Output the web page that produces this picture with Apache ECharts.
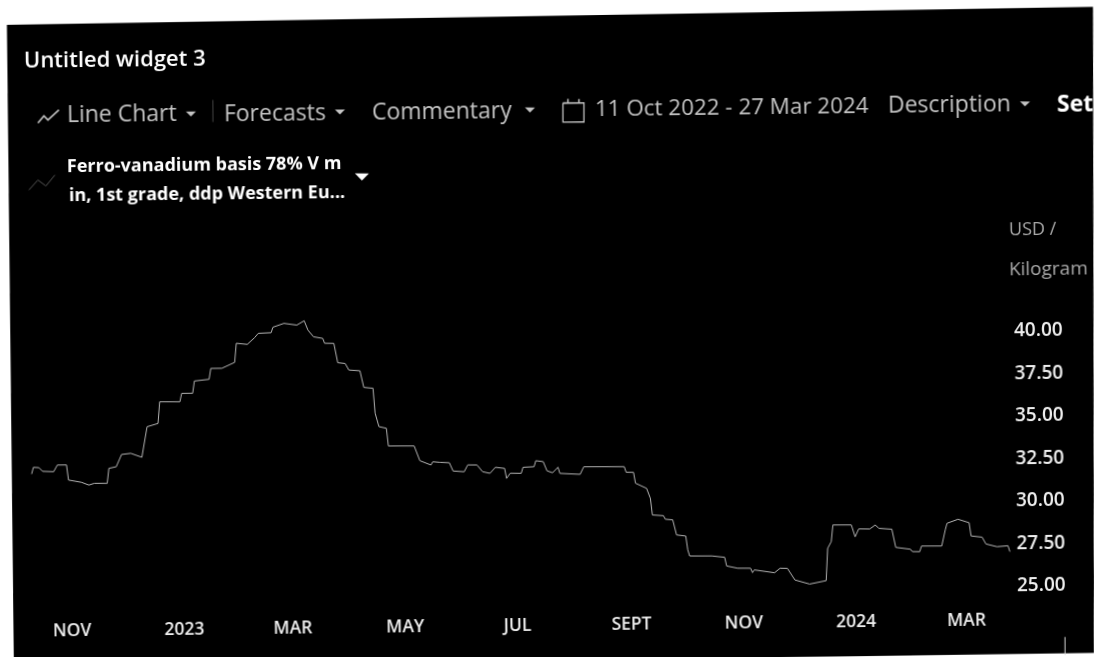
<!DOCTYPE html>
<html><head><meta charset="utf-8">
<style>html,body{margin:0;padding:0;background:#fff;overflow:hidden;width:1094px;height:657px}
#c{position:absolute;left:0;top:0;width:1200px;height:700px;transform-origin:1040px 586px;transform:rotate(-0.66deg)}</style>
<script src="https://cdn.jsdelivr.net/npm/echarts@6/dist/echarts.min.js"></script>
</head><body><div id="c"></div>
<script>
const startDate='2022-10-11', endDate='2024-03-27';
const daysSinceStart=[0,1,4,6,12,14,19,20,27,31,34,41,42,46,49,54,60,63,69,70,81,82,88,89,97,98,104,111,112,118,122,124,131,132,138,145,149,151,154,159,160,165,167,171,173,179,181,186,187,189,193,194,208,211,217,218,222,227,229,235,237,242,245,249,252,257,258,260,266,267,273,274,278,280,283,286,287,298,300,322,323,327,328,334,336,337,343,344,348,350,355,356,357,369,376,377,383,390,391,392,403,406,410,414,422,431,432,434,435,445,447,449,455,458,460,467,469,477,478,482,483,494,496,497,503,509,510,516,518,524,530,531];
const pricesUsdPerKg=[32.27,32.66,32.64,32.42,32.39,32.78,32.78,31.89,31.75,31.58,31.68,31.67,32.55,32.64,33.36,33.42,33.18,34.97,35.16,36.43,36.42,36.91,36.91,37.63,37.72,38.36,38.36,38.70,39.82,39.75,40.14,40.39,40.42,40.74,40.96,40.85,41.10,40.55,40.15,40.05,39.76,39.75,38.61,38.56,38.17,38.12,37.14,37.08,35.61,34.82,34.72,33.68,33.66,32.79,32.53,32.72,32.68,32.65,32.16,32.11,32.51,32.50,32.10,32.00,32.35,32.28,31.69,31.99,31.98,32.33,32.36,32.71,32.65,32.11,31.99,32.31,31.95,31.88,32.32,32.30,31.97,31.96,31.32,31.01,30.42,29.44,29.39,29.18,29.14,28.25,28.18,27.36,27.00,26.99,26.90,26.39,26.25,26.24,25.98,26.14,25.96,26.22,26.21,25.52,25.27,25.46,27.36,27.75,28.73,28.72,28.02,28.48,28.47,28.70,28.50,28.44,27.37,27.25,27.11,27.10,27.43,27.42,28.36,28.75,28.98,28.77,27.99,27.91,27.51,27.34,27.39,27.04];
const tickDates=['2022-11-01','2023-01-01','2023-03-01','2023-05-01','2023-07-01','2023-09-01','2023-11-01','2024-01-01','2024-03-01'];
const tickLabels=['NOV','2023','MAR','MAY','JUL','SEPT','NOV','2024','MAR'];
const DAY=86400000;
const t0=Date.parse(startDate+'T00:00:00Z');
const seriesData=daysSinceStart.map((d,i)=>[t0+d*DAY,pricesUsdPerKg[i]]);
const tickTimes=tickDates.map(d=>Date.parse(d+'T00:00:00Z'));

const S=0.0115, F='"Open Sans",sans-serif';
const ux=(x,y)=>x+(586-y)*S, uy=(x,y)=>y-(1040-x)*S;
const P=pts=>pts.map(p=>[ux(p[0],p[1]),uy(p[0],p[1])]);
function txt(s,x,y,size,color,weight){return {type:'text',x:ux(x,y),y:uy(x,y),z:10,style:{text:s,font:(weight||400)+' '+size+'px '+F,fill:color,textVerticalAlign:'middle',textAlign:'left'}};}
function tri(cx,cy,w,h,color){return {type:'polygon',z:10,shape:{points:P([[cx-w/2,cy-h/2],[cx+w/2,cy-h/2],[cx,cy+h/2]])},style:{fill:color}};}
function pl(pts,color,lw){return {type:'polyline',z:10,shape:{points:P(pts)},style:{stroke:color,fill:null,lineWidth:lw}};}
const dim='#c4c4c4';
const graphics=[
 {type:'polygon',z:-10,shape:{points:P([[7,25],[1093,7],[1094,653],[14,668]])},style:{fill:'#000'}},
 txt('Untitled widget 3',24,61,22,'#fff',600),
 txt('Line Chart',67,116,23,dim),tri(191,114,10,5,dim),
 pl([[213,100],[213,122]],'#444',1),
 txt('Forecasts',224,115,23,dim),tri(340,112,10,5,dim),
 txt('Commentary',372,113,23,dim),tri(530,110,10,5,dim),
 txt('11 Oct 2022 - 27 Mar 2024',595,110,22.4,dim),
 txt('Description',888,106,23,dim),tri(1025,104,10,5,dim),
 txt('Set',1057,105,23,'#fff',700),
 txt('Ferro-vanadium basis 78% V m',67,167,18,'#fff',700),
 txt('in, 1st grade, ddp Western Eu...',69,196,18,'#fff',700),
 tri(362,177,14,7,'#fff'),
 txt('USD /',1009,230,18,'#aaa'),
 txt('Kilogram',1009,270,19,'#aaa'),
 pl([[38,123],[44,116],[48,120],[59,110]],dim,1.6),
 pl([[29,190],[38,180],[46,186],[55,175]],'#555',1),
 pl([[563,103],[584,103],[584,122],[563,122],[563,103]],dim,1.3),
 pl([[568,99],[568,103]],dim,1.5),pl([[579,99],[579,103]],dim,1.5),
 pl([[1065,637],[1065,655]],'#ddd',1)
];

const chart=echarts.init(document.getElementById('c'),null,{renderer:'canvas'});
chart.setOption({
 animation:false,
 backgroundColor:'transparent',
 graphic:graphics,
 grid:{left:33,top:288.5,width:981,height:297.5},
 xAxis:{type:'value',scale:true,min:t0,max:Date.parse(endDate+'T00:00:00Z'),
  axisLine:{show:false},axisTick:{show:false},splitLine:{show:false},
  axisLabel:{customValues:tickTimes,hideOverlap:false,margin:25,color:'#eee',fontFamily:F,fontSize:17.5,fontWeight:600,
   formatter:v=>{const i=tickTimes.indexOf(+v);return i>=0?tickLabels[i]:'';}}},
 yAxis:{type:'value',position:'right',min:25,max:42.5,interval:2.5,
  axisLine:{show:false},axisTick:{show:false},splitLine:{show:false},
  axisLabel:{margin:3,color:'#eee',fontFamily:F,fontSize:19,fontWeight:600,
   formatter:v=>v>40?'':v.toFixed(2)}},
 series:[{type:'line',data:seriesData,showSymbol:false,smooth:false,lineStyle:{color:'#b4b4b4',width:1}}]
});
</script></body></html>
